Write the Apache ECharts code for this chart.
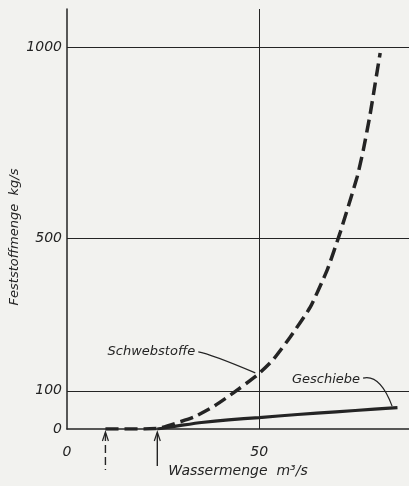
<!DOCTYPE html>
<html><head><meta charset="utf-8">
<script src="https://cdn.jsdelivr.net/npm/echarts@6/dist/echarts.min.js"></script>
<style>html,body{margin:0;padding:0;background:#f2f2ef;}#c{width:409px;height:486px;}</style>
</head><body><div id="c"></div>
<script>
// ---- data ----
const schwebX = [10, 15, 20, 24, 28.6, 33, 38, 43.2, 49.5, 53.6, 58.1, 63.3, 67.7, 71.1, 75.5, 77.1, 78.9, 80.2, 81.5];
const schwebY = [0, 0, 0, 2, 16, 31, 58, 94, 141, 181, 241, 319, 416, 515, 660, 730, 825, 905, 985];
const geschX = [23.5, 26, 30, 35, 42, 50, 60, 70, 80, 86];
const geschY = [0, 4, 10, 17, 24, 30, 38, 45, 52, 56];
const yTickLabels = [0, 100, 500, 1000];
const xTickLabels = [0, 50];
const gridY = [100, 500, 1000];
const gridX = [50];
const arrowX = [10, 23.5];
const arrowKind = ['dashed', 'solid'];
const annotTexts = ['Schwebstoffe', 'Geschiebe'];
const annotX = [49, 84.6];
const annotY = [147, 60];
const yTitle = 'Feststoffmenge  kg/s';
const xTitle = 'Wassermenge  m³/s';

// ---- styling ----
const FONT = '"DejaVu Sans", sans-serif';
const INK = '#242424';
const ANNOT_LAYOUT = [
  {tx: -60, ty: -21, sx: -57, sy: -21, cx: -45, cy: -19},
  {tx: -32, ty: -26, sx: -29, sy: -28, cx: -12, cy: -32}
];

const chart = echarts.init(document.getElementById('c'), null, {renderer: 'canvas'});
const txt = {fontStyle: 'italic', fontFamily: FONT, fontSize: 14, color: INK};

chart.setOption({
  backgroundColor: '#f2f2ef',
  animation: false,
  grid: {left: 67, right: 0, top: 9, bottom: 57, containLabel: false, outerBoundsMode: 'none'},
  graphic: [{
    type: 'text', x: 15, y: 237, rotation: Math.PI / 2,
    style: {text: yTitle, font: 'italic 13px ' + FONT, fill: INK, align: 'center', verticalAlign: 'middle'}
  }],
  xAxis: {
    type: 'value', min: 0, max: 89, interval: 50,
    axisLine: {lineStyle: {color: INK, width: 1.5}},
    axisTick: {show: false}, splitLine: {show: false},
    axisLabel: Object.assign({margin: 16, formatter: v => xTickLabels.includes(v) ? String(v) : ''}, txt),
    name: xTitle, nameLocation: 'middle', nameGap: 31,
    nameTextStyle: Object.assign({}, txt)
  },
  yAxis: {
    type: 'value', min: 0, max: 1100, interval: 100,
    axisLine: {show: true, lineStyle: {color: INK, width: 1.5}},
    axisTick: {show: false}, splitLine: {show: false},
    axisLabel: Object.assign({margin: 5, formatter: v => yTickLabels.includes(v) ? String(v) : ''}, txt)
  },
  series: [
    {
      type: 'line', data: schwebX.map((x, i) => [x, schwebY[i]]),
      showSymbol: false, smooth: 0.15, z: 3,
      lineStyle: {color: INK, width: 3.5, type: [13, 6], cap: 'butt'},
      markLine: {
        silent: true, symbol: 'none', label: {show: false},
        lineStyle: {color: INK, width: 1, type: 'solid'},
        data: gridY.map(v => ({yAxis: v})).concat(gridX.map(v => ({xAxis: v})))
      }
    },
    {
      type: 'line', data: geschX.map((x, i) => [x, geschY[i]]),
      showSymbol: false, smooth: 0.15, z: 3,
      lineStyle: {color: INK, width: 3.2}
    },
    {
      type: 'custom', coordinateSystem: 'cartesian2d', z: 4,
      data: arrowX.map(x => [x, 0]),
      renderItem(params, api) {
        const p = api.coord([api.value(0), 0]);
        const dashed = arrowKind[params.dataIndex] === 'dashed';
        const top = p[1] + 3, bot = p[1] + (dashed ? 41 : 37);
        return {type: 'group', children: [
          {type: 'line', shape: {x1: p[0], y1: top + 1, x2: p[0], y2: bot},
           style: {stroke: INK, lineWidth: 1.4, lineDash: dashed ? [8, 4] : null}},
          {type: 'polyline', shape: {points: [[p[0] - 3, top + 9], [p[0], top], [p[0] + 3, top + 9]]},
           style: {stroke: INK, lineWidth: 1.2, fill: null}}
        ]};
      }
    },
    {
      type: 'custom', coordinateSystem: 'cartesian2d', z: 4,
      data: annotX.map((x, i) => [x, annotY[i]]),
      renderItem(params, api) {
        const p = api.coord([api.value(0), api.value(1)]);
        const i = params.dataIndex, L = ANNOT_LAYOUT[i];
        return {type: 'group', children: [
          {type: 'text', style: {x: p[0] + L.tx, y: p[1] + L.ty, text: annotTexts[i],
            font: 'italic 13px ' + FONT, fill: INK, align: 'right', verticalAlign: 'middle'}},
          {type: 'bezierCurve', shape: {x1: p[0] + L.sx, y1: p[1] + L.sy, cpx1: p[0] + L.cx, cpy1: p[1] + L.cy, x2: p[0], y2: p[1]},
           style: {stroke: INK, lineWidth: 1.2, fill: null}}
        ]};
      }
    }
  ]
});
</script></body></html>
